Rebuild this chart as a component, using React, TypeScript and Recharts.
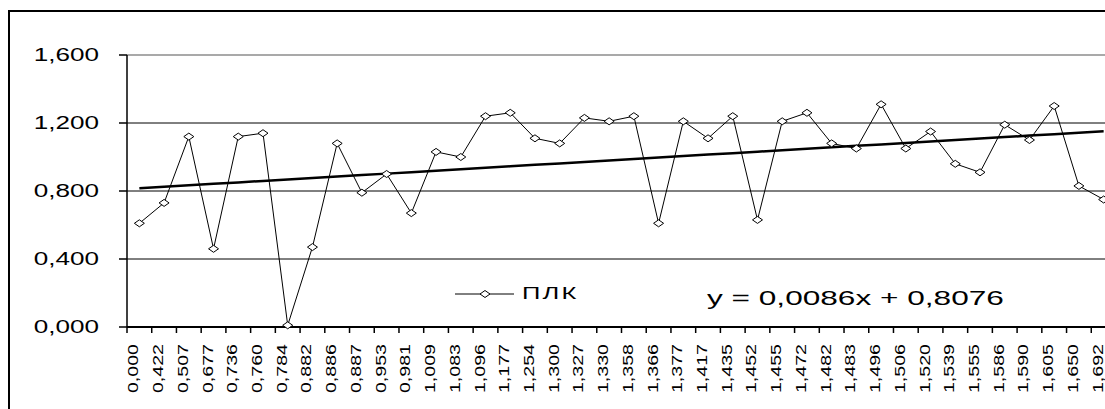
import React from "react";
import {
  ComposedChart,
  Line,
  XAxis,
  YAxis,
  CartesianGrid,
  ReferenceLine,
  Legend,
} from "recharts";

// category labels (x axis), as printed on the chart
const LABELS: string[] = [
  "0,000", "0,422", "0,507", "0,677", "0,736", "0,760", "0,784", "0,882",
  "0,886", "0,887", "0,953", "0,981", "1,009", "1,083", "1,096", "1,177",
  "1,254", "1,300", "1,327", "1,330", "1,358", "1,366", "1,377", "1,417",
  "1,435", "1,452", "1,455", "1,472", "1,482", "1,483", "1,496", "1,506",
  "1,520", "1,539", "1,555", "1,586", "1,590", "1,605", "1,650", "1,692",
];

// series "ПЛК"
const PLK: number[] = [
  0.61, 0.73, 1.12, 0.46, 1.12, 1.14, 0.01, 0.47, 1.08, 0.79,
  0.9, 0.67, 1.03, 1.0, 1.24, 1.26, 1.11, 1.08, 1.23, 1.21,
  1.24, 0.61, 1.21, 1.11, 1.24, 0.63, 1.21, 1.26, 1.08, 1.05,
  1.31, 1.05, 1.15, 0.96, 0.91, 1.19, 1.1, 1.3, 0.83, 0.75,
];

// linear trend shown on the chart: y = 0,0086x + 0,8076
const TREND_SLOPE = 0.0086;
const TREND_INTERCEPT = 0.8076;

const Y_TICKS = [0, 0.4, 0.8, 1.2, 1.6];

const data = LABELS.map((label, i) => ({
  label,
  value: PLK[i],
  trend: TREND_INTERCEPT + TREND_SLOPE * (i + 1),
}));

const fmt = (v: number) => v.toFixed(3).replace(".", ",");

const CHART_W = 1140;
const PLOT_LEFT = 127;
const PLOT_RIGHT = 1116;
const BAND = (PLOT_RIGHT - PLOT_LEFT) / LABELS.length;
const FONT = "'Liberation Sans', Arial, sans-serif";

function Diamond(props: any) {
  const { cx, cy, index } = props;
  if (cx == null || cy == null) return <g key={`d${index}`} />;
  return (
    <path
      key={`d${index}`}
      d={`M ${cx - 5} ${cy} L ${cx} ${cy - 3.5} L ${cx + 5} ${cy} L ${cx} ${cy + 3.5} Z`}
      fill="#fff"
      stroke="#000"
      strokeWidth={1}
    />
  );
}

function XTick(props: any) {
  const { x, y, payload } = props;
  const left = x - BAND / 2;
  return (
    <g>
      <line x1={left} y1={y} x2={left} y2={y + 6} stroke="#000" strokeWidth={1.5} />
      <text
        transform={`translate(${x - 1},${y + 17}) rotate(-90) scale(1.4,1)`}
        textAnchor="end"
        fontFamily={FONT}
        fontSize={14}
        fill="#000"
      >
        {payload.value}
      </text>
    </g>
  );
}

function YTick(props: any) {
  const { x, y, payload } = props;
  return (
    <text
      transform={`translate(${x},${y}) scale(1.45,1)`}
      textAnchor="end"
      dy="0.36em"
      fontFamily={FONT}
      fontSize={18}
      fill="#000"
    >
      {fmt(payload.value)}
    </text>
  );
}

function LegendBox() {
  return (
    <svg width={1105} height={409} style={{ position: "absolute", left: 0, top: 0 }}>
      <line x1={455} y1={294} x2={514} y2={294} stroke="#000" strokeWidth={1} />
      <path d="M 480 294 L 485 290.5 L 490 294 L 485 297.5 Z" fill="#fff" stroke="#000" />
      <text
        transform="translate(522,299) scale(1.5,1)"
        fontFamily={FONT}
        fontSize={17}
        letterSpacing={1.5}
        fill="#000"
      >
        ПЛК
      </text>
      <text
        transform="translate(707,305) scale(1.58,1)"
        fontFamily={FONT}
        fontSize={20}
        fill="#000"
      >
        y = 0,0086x + 0,8076
      </text>
    </svg>
  );
}

export default function App() {
  return (
    <div
      style={{
        position: "absolute",
        left: 0,
        top: 0,
        width: 1105,
        height: 409,
        overflow: "hidden",
        background: "#fff",
      }}
    >
      <div
        style={{
          position: "absolute",
          left: 8,
          top: 10,
          width: 1200,
          height: 500,
          borderTop: "2px solid #000",
          borderLeft: "2px solid #000",
        }}
      />
      <ComposedChart
        width={CHART_W}
        height={409}
        data={data}
        margin={{ top: 55, right: CHART_W - PLOT_RIGHT, bottom: 0, left: 0 }}
        style={{ position: "absolute", left: 0, top: 0 }}
      >
        <CartesianGrid
          horizontal
          vertical={false}
          horizontalValues={[0.4, 0.8, 1.2]}
          stroke="#000"
          strokeWidth={1}
        />
        <ReferenceLine y={1.6} stroke="#8c8c8c" strokeWidth={1.5} />
        <XAxis
          dataKey="label"
          scale="band"
          interval={0}
          height={82}
          tickLine={false}
          tickSize={0}
          tickMargin={0}
          axisLine={{ stroke: "#000", strokeWidth: 2 }}
          tick={<XTick />}
        />
        <YAxis
          type="number"
          domain={[0, 1.6]}
          ticks={Y_TICKS}
          width={PLOT_LEFT}
          tickSize={8}
          tickMargin={20}
          tickLine={{ stroke: "#000", strokeWidth: 1.5 }}
          axisLine={{ stroke: "#000", strokeWidth: 1.5 }}
          tick={<YTick />}
        />
        <Legend
          layout="horizontal"
          verticalAlign="middle"
          align="center"
          content={() => <LegendBox />}
          wrapperStyle={{ position: "absolute", left: 0, top: 0, width: 1105, height: 409 }}
        />
        <Line
          name="ПЛК"
          dataKey="value"
          stroke="#000"
          strokeWidth={1}
          dot={Diamond}
          activeDot={false}
          isAnimationActive={false}
        />
        <Line
          dataKey="trend"
          stroke="#000"
          strokeWidth={2.5}
          dot={false}
          activeDot={false}
          legendType="none"
          isAnimationActive={false}
        />
      </ComposedChart>
    </div>
  );
}
